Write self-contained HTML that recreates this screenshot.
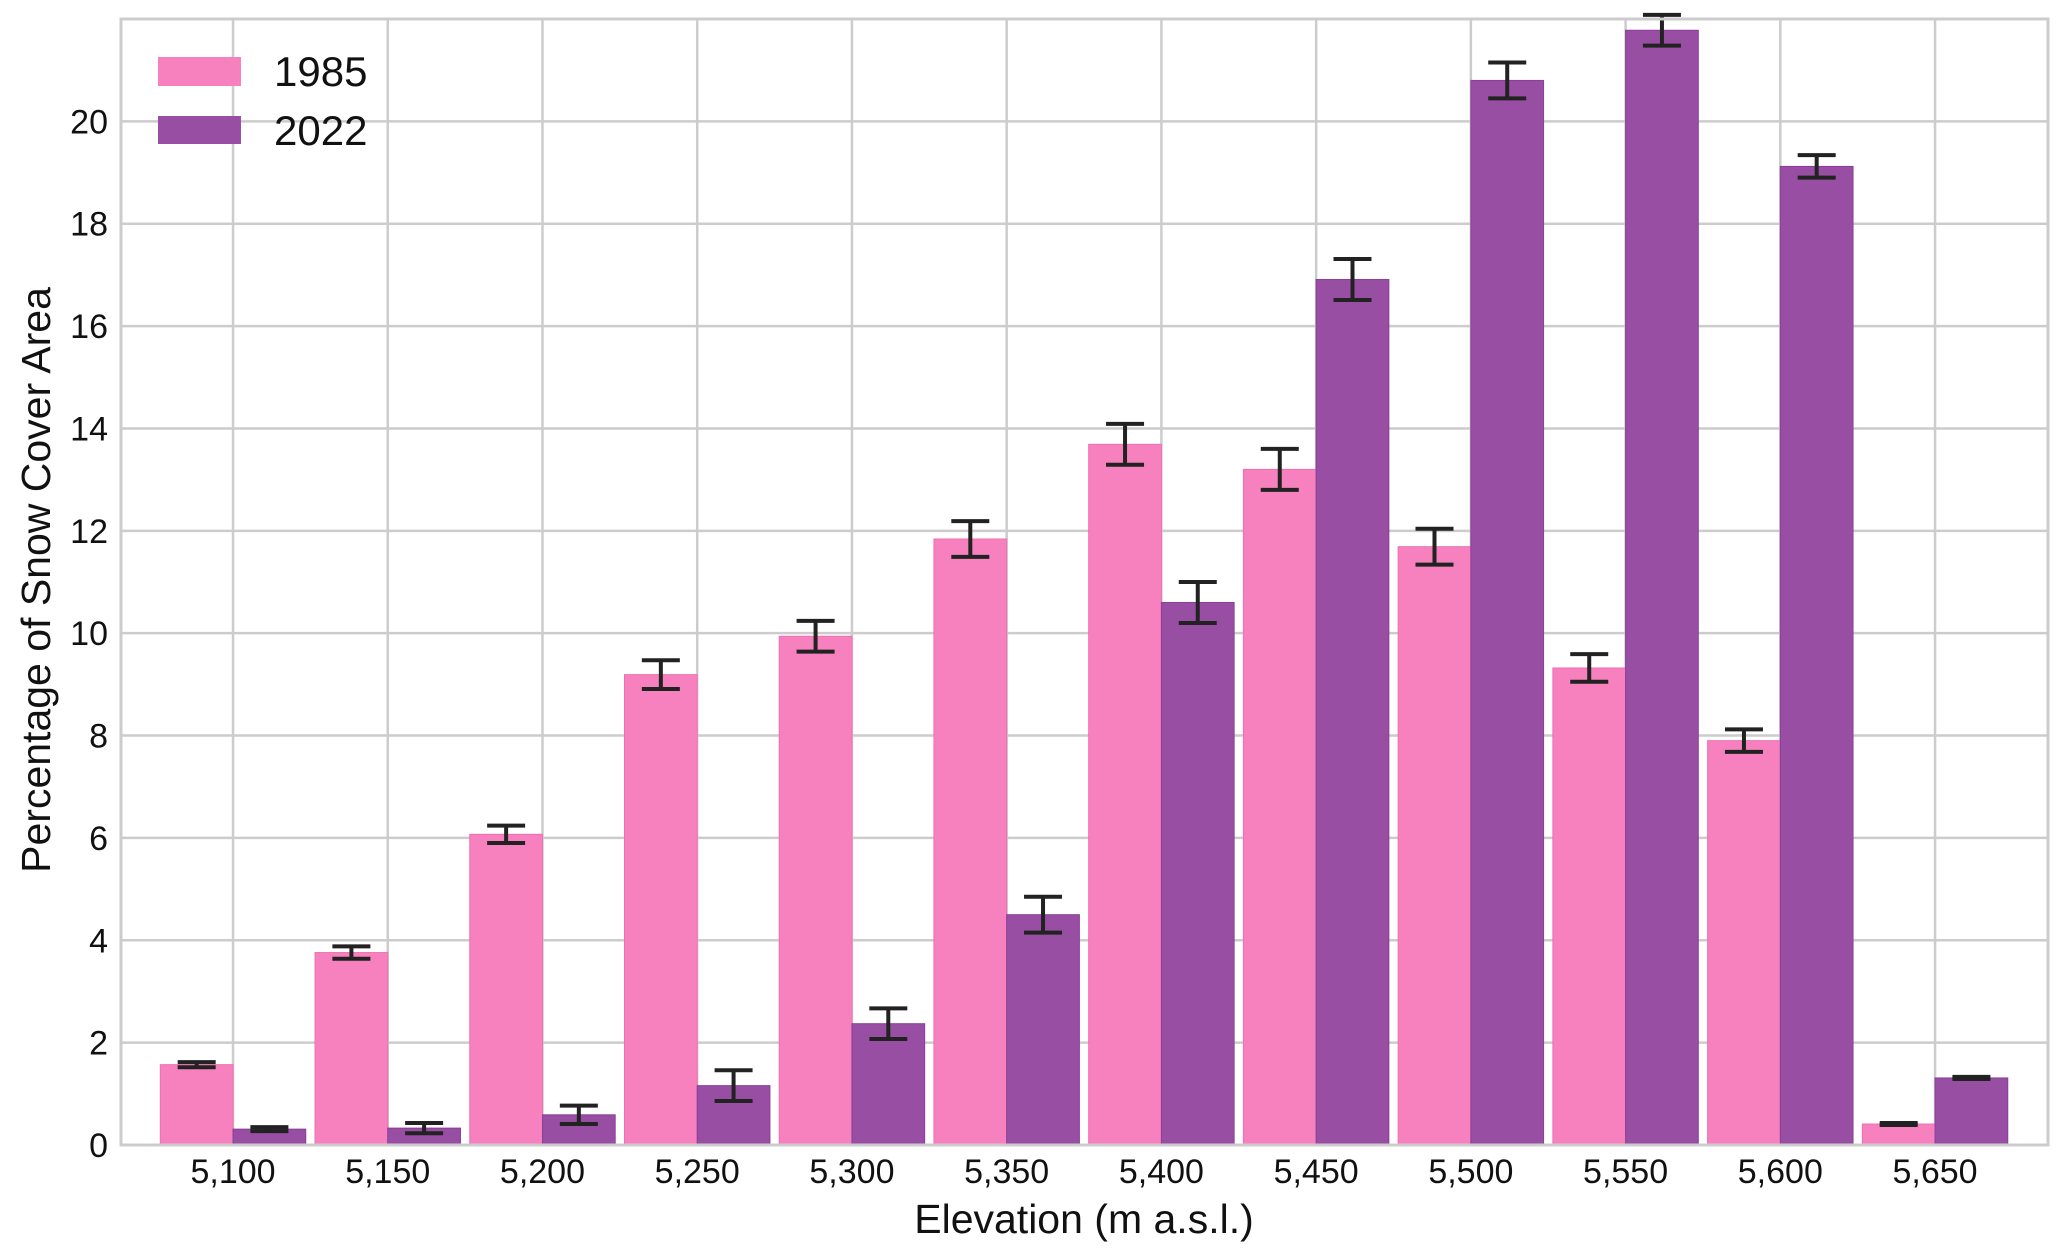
<!DOCTYPE html>
<html><head><meta charset="utf-8"><style>
html,body{margin:0;padding:0;background:#fff;}
svg{display:block;font-family:"Liberation Sans",Arial,sans-serif;}
</style></head><body>
<svg id="chart" width="2067" height="1260" viewBox="0 0 2067 1260"></svg>
<script>
const categories=["5,100","5,150","5,200","5,250","5,300","5,350","5,400","5,450","5,500","5,550","5,600","5,650"];
const values1985=[1.57,3.76,6.07,9.19,9.94,11.84,13.69,13.2,11.69,9.32,7.9,0.41];
const values2022=[0.31,0.33,0.59,1.16,2.37,4.5,10.6,16.91,20.8,21.78,19.12,1.31];
const err1985=[0.05,0.12,0.17,0.28,0.3,0.35,0.4,0.4,0.35,0.27,0.22,0.02];
const err2022=[0.04,0.1,0.18,0.3,0.3,0.35,0.4,0.4,0.35,0.3,0.22,0.02];
const yTicks=[0,2,4,6,8,10,12,14,16,18,20];
const L=121,R=2048,T=19,B=1145,YMAX=22,XMIN=-0.724,XMAX=11.73,BW=0.47;
const NS="http://www.w3.org/2000/svg";
const svg=document.getElementById('chart');
function X(v){return L+(v-XMIN)/(XMAX-XMIN)*(R-L);}
function Y(v){return B-v/YMAX*(B-T);}
function mk(t,a,p){const e=document.createElementNS(NS,t);for(const k in a)e.setAttribute(k,a[k]);(p||svg).appendChild(e);return e;}
yTicks.forEach(t=>{
 const g=mk('line',{x1:L,x2:R,y1:Y(t),y2:Y(t),stroke:'#cccccc','stroke-width':2.5});
 
 
 const tx=mk('text',{x:108,y:Y(t)+12,'text-anchor':'end','font-size':34,fill:'#111'});
 tx.textContent=t;
 
 
});
categories.forEach((c,i)=>{
 const g=mk('line',{x1:X(i),x2:X(i),y1:T,y2:B,stroke:'#cccccc','stroke-width':2.5});
 
 
 const tx=mk('text',{x:X(i),y:1183,'text-anchor':'middle','font-size':34,fill:'#111'});
 tx.textContent=c;
 
 
});
function bars(vals,errs,off,fill,edge,name){
 vals.forEach((v,i)=>{
  const x0=X(i+off),x1=X(i+off+BW);
  const r=mk('rect',{x:x0,y:Y(v),width:x1-x0,height:Y(0)-Y(v),fill:fill,stroke:edge,'stroke-width':1});
  
  
 });
 vals.forEach((v,i)=>{
  const cx=X(i+off+BW/2),e=errs[i];
  const g=mk('g',{stroke:'#222','stroke-width':4});
  
  
  mk('line',{x1:cx,x2:cx,y1:Y(v+e),y2:Y(v-e)},g);
  mk('line',{x1:cx-19,x2:cx+19,y1:Y(v+e),y2:Y(v+e)},g);
  mk('line',{x1:cx-19,x2:cx+19,y1:Y(v-e),y2:Y(v-e)},g);
 });
}
bars(values1985,err1985,-BW,'#f781bf','#f06fb0','bar-1985');
bars(values2022,err2022,0,'#984ea3','#8a3f98','bar-2022');
const fr=mk('rect',{x:L,y:T,width:R-L,height:B-T,fill:'none',stroke:'#cccccc','stroke-width':3});


const lg=mk('g',{});


const p1=mk('rect',{x:158,y:57,width:83,height:29,fill:'#f781bf'},lg);


const p2=mk('rect',{x:158,y:116,width:83,height:28,fill:'#984ea3'},lg);


const t1=mk('text',{x:274,y:86,'font-size':42,fill:'#111'},lg);t1.textContent='1985';


const t2=mk('text',{x:274,y:145,'font-size':42,fill:'#111'},lg);t2.textContent='2022';


const xt=mk('text',{x:1084,y:1233,'text-anchor':'middle','font-size':41,fill:'#111'});
xt.textContent='Elevation (m a.s.l.)';


const yt=mk('text',{x:0,y:0,'text-anchor':'middle','font-size':41,fill:'#111',transform:'translate(50,580) rotate(-90)'});
yt.textContent='Percentage of Snow Cover Area';


</script>
</body></html>
